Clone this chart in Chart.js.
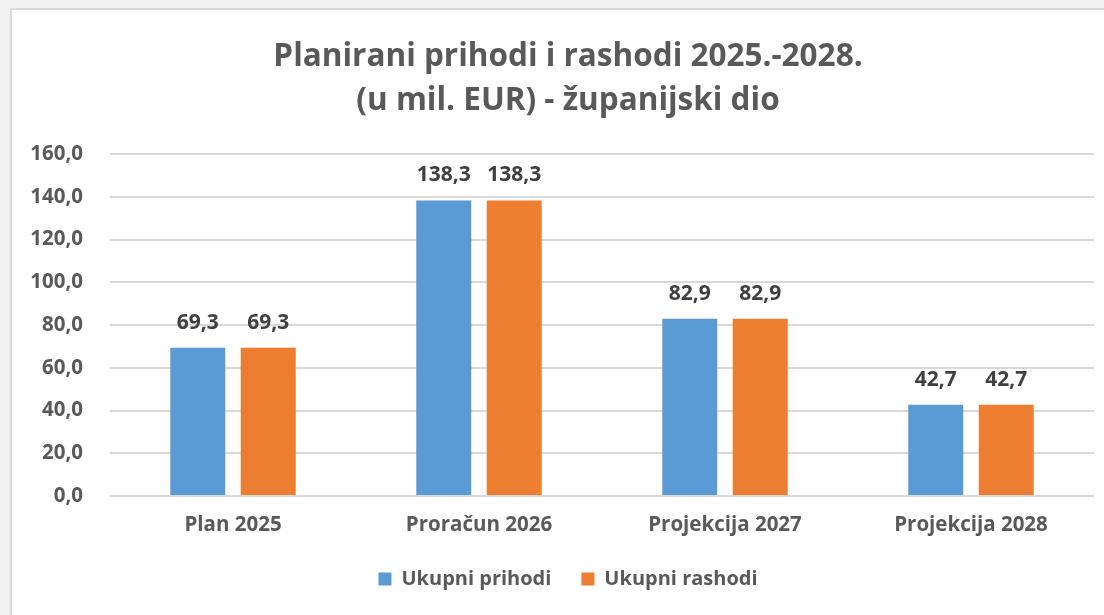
<!DOCTYPE html>
<html>
<head>
<meta charset="utf-8">
<script src="https://cdn.jsdelivr.net/npm/chart.js@4.4.1/dist/chart.umd.min.js"></script>
<style>
  html, body { margin: 0; padding: 0; background: #f2f2f2; }
  #wrap { position: absolute; left: 0; top: 0; width: 1104px; height: 615px; }
</style>
</head>
<body>
<div id="wrap"><canvas id="c" width="1104" height="615"></canvas></div>
<script>
const titleLines = ['Planirani prihodi i rashodi 2025.-2028.', '(u mil. EUR) - županijski dio'];
const categories = ['Plan 2025', 'Proračun 2026', 'Projekcija 2027', 'Projekcija 2028'];
const seriesNames = ['Ukupni prihodi', 'Ukupni rashodi'];
const prihodi = [69.3, 138.3, 82.9, 42.7];
const rashodi = [69.3, 138.3, 82.9, 42.7];
const yTicks = [0, 20, 40, 60, 80, 100, 120, 140, 160];

const fmt = v => v.toFixed(1).replace('.', ',');
const FONT = '"Open Sans", Lato, sans-serif';

const bgPlugin = {
  id: 'bg',
  beforeDraw(chart) {
    const ctx = chart.ctx;
    ctx.save();
    ctx.fillStyle = '#f2f2f2';
    ctx.fillRect(0, 0, chart.width, chart.height);
    ctx.fillStyle = '#ffffff';
    ctx.fillRect(10, 8, chart.width - 10, chart.height - 8);
    ctx.strokeStyle = '#d9d9d9';
    ctx.lineWidth = 2;
    ctx.beginPath();
    ctx.moveTo(11, chart.height);
    ctx.lineTo(11, 9);
    ctx.lineTo(chart.width, 9);
    ctx.stroke();
    ctx.restore();
  }
};

const labelPlugin = {
  id: 'valueLabels',
  afterDatasetsDraw(chart) {
    const ctx = chart.ctx;
    ctx.save();
    ctx.font = 'bold 21px ' + FONT;
    ctx.fillStyle = '#404040';
    ctx.textAlign = 'center';
    ctx.textBaseline = 'middle';
    chart.data.datasets.forEach((ds, i) => {
      const meta = chart.getDatasetMeta(i);
      meta.data.forEach((el, j) => {
        ctx.fillText(fmt(ds.data[j]), el.x, el.y - 25);
      });
    });
    ctx.restore();
  }
};

new Chart(document.getElementById('c'), {
  type: 'bar',
  data: {
    labels: categories,
    datasets: [
      { label: seriesNames[0], data: prihodi, backgroundColor: '#5b9bd5', categoryPercentage: 0.573, barPercentage: 0.78 },
      { label: seriesNames[1], data: rashodi, backgroundColor: '#ed7d31', categoryPercentage: 0.573, barPercentage: 0.78 }
    ]
  },
  options: {
    responsive: false,
    animation: false,
    layout: { padding: { left: 42, right: 10, top: 35, bottom: 16 } },
    plugins: {
      title: {
        display: true,
        text: titleLines,
        color: '#595959',
        font: { family: FONT, size: 31.5, weight: 'bold', lineHeight: 44 / 31.5 },
        padding: { top: 0, bottom: 31 }
      },
      legend: {
        position: 'bottom',
        labels: {
          color: '#595959',
          font: { family: FONT, size: 20, weight: 'bold' },
          boxWidth: 13, boxHeight: 13, padding: 30
        }
      },
      tooltip: { enabled: false }
    },
    scales: {
      x: {
        grid: { display: false, drawTicks: false },
        border: { display: false },
        ticks: { color: '#595959', font: { family: FONT, size: 20.5, weight: 'bold' }, padding: 17 },
        afterFit(scale) { scale.height = 43; }
      },
      y: {
        min: 0, max: 160,
        afterBuildTicks(scale) { scale.ticks = yTicks.map(v => ({ value: v })); },
        grid: { color: '#d9d9d9', lineWidth: 2, drawTicks: false },
        border: { display: false },
        ticks: { color: '#595959', font: { family: FONT, size: 20.5, weight: 'bold' }, padding: 27, callback: v => fmt(v) },
        afterFit(scale) {
          scale.width = 68;
          scale._computeLabelArea = () => undefined;
        }
      }
    }
  },
  plugins: [bgPlugin, labelPlugin]
});
</script>
</body>
</html>
